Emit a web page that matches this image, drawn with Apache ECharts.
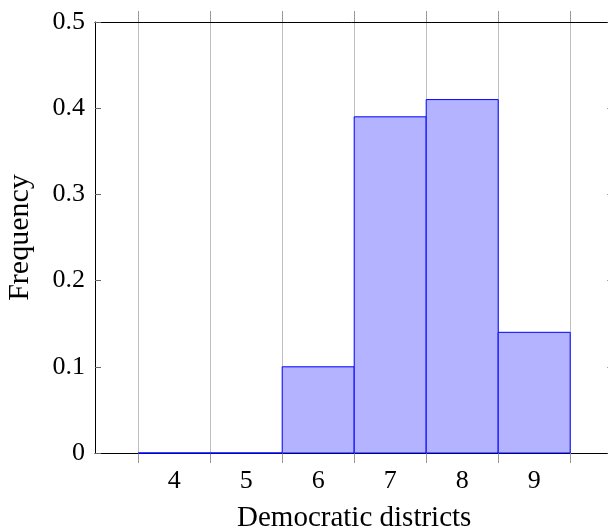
<!DOCTYPE html>
<html>
<head>
<meta charset="utf-8">
<script src="https://cdn.jsdelivr.net/npm/echarts@6/dist/echarts.min.js"></script>
<style>
html,body{margin:0;padding:0;background:#fff;}
#chart{width:608px;height:529px;}
</style>
</head>
<body>
<div id="chart"></div>
<script>
const binCenters = [4, 5, 6, 7, 8, 9];
const frequencies = [0, 0, 0.1, 0.39, 0.41, 0.14];
const binEdges = [3.5, 4.5, 5.5, 6.5, 7.5, 8.5, 9.5];
const yTicks = [0, 0.1, 0.2, 0.3, 0.4, 0.5];

const font = '"Liberation Serif", serif';
const chart = echarts.init(document.getElementById('chart'), null, {renderer: 'canvas'});
const data = binCenters.map((c, i) => [c, frequencies[i]]);

chart.setOption({
  animation: false,
  backgroundColor: '#fff',
  grid: {left: 95, top: 22, width: 518.4, height: 431, containLabel: false, outerBoundsMode: 'none'},
  xAxis: [{
    type: 'value', position: 'bottom', min: 2.9, max: 10.1,
    name: 'Democratic districts', nameLocation: 'middle', nameGap: 51,
    nameTextStyle: {fontFamily: font, fontSize: 29, color: '#000'},
    axisLine: {show: true, onZero: false, lineStyle: {color: '#000', width: 1}},
    axisTick: {show: true, inside: false, length: 10, customValues: binEdges, lineStyle: {color: '#999'}},
    axisLabel: {show: true, customValues: binCenters, margin: 15, fontFamily: font, fontSize: 26, color: '#000'},
    splitLine: {show: true, lineStyle: {color: '#bfbfbf', width: 1}}
  }, {
    type: 'value', position: 'top', min: 2.9, max: 10.1,
    axisLine: {show: true, onZero: false, lineStyle: {color: '#000', width: 1}},
    axisTick: {show: true, inside: false, length: 11, customValues: binEdges, lineStyle: {color: '#999'}},
    axisLabel: {show: false},
    splitLine: {show: false}
  }],
  yAxis: [{
    type: 'value', position: 'left', min: 0, max: 0.5, interval: 0.1,
    name: 'Frequency', nameLocation: 'middle', nameGap: 60, nameRotate: 90,
    nameTextStyle: {fontFamily: font, fontSize: 30, color: '#000'},
    axisLine: {show: true, onZero: false, lineStyle: {color: '#000', width: 1}},
    axisTick: {show: true, inside: true, length: 6, lineStyle: {color: '#666'}},
    axisLabel: {show: true, margin: 10, fontFamily: font, fontSize: 26, color: '#000'},
    splitLine: {show: false}
  }, {
    type: 'value', position: 'right', min: 0, max: 0.5, interval: 0.1,
    axisLine: {show: true, onZero: false, lineStyle: {color: '#000', width: 1}},
    axisTick: {show: true, inside: true, length: 6, lineStyle: {color: '#666'}},
    axisLabel: {show: false},
    splitLine: {show: false}
  }],
  series: [{
    type: 'custom',
    xAxisIndex: 0, yAxisIndex: 0,
    data: data,
    renderItem: function (params, api) {
      const x = api.value(0), y = api.value(1);
      const p0 = api.coord([x - 0.5, y]);
      const p1 = api.coord([x + 0.5, 0]);
      return {
        type: 'rect',
        shape: {x: p0[0], y: p0[1], width: p1[0] - p0[0], height: p1[1] - p0[1]},
        style: {fill: y > 0 ? '#b3b3ff' : 'none', stroke: '#0000ff', lineWidth: 1}
      };
    }
  }]
});
</script>
</body>
</html>
